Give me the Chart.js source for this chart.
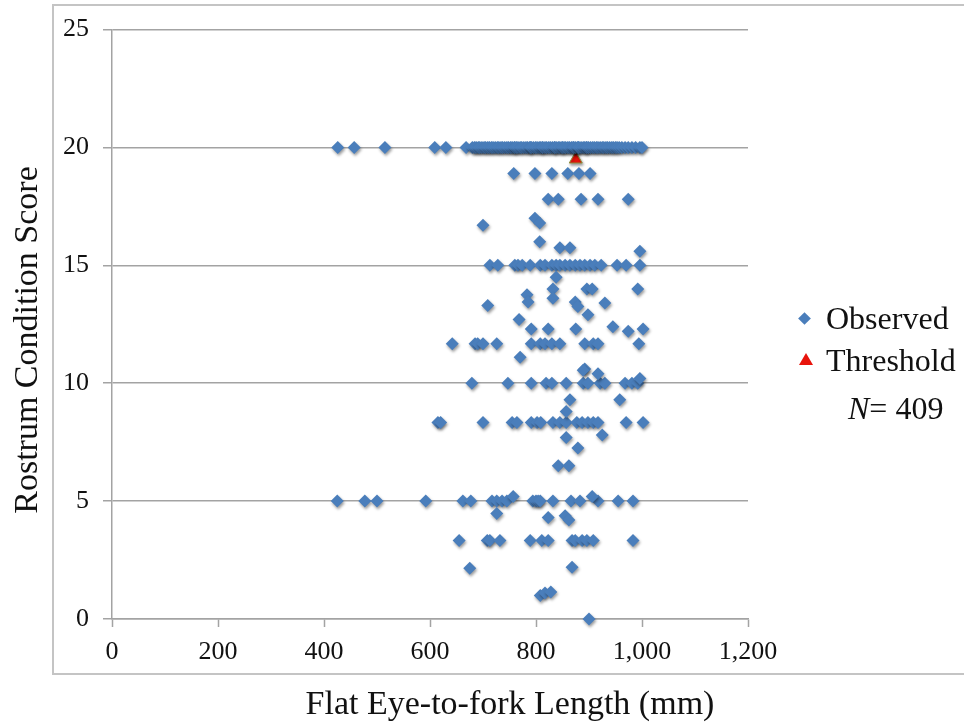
<!DOCTYPE html>
<html lang="en">
<head>
<meta charset="UTF-8">
<title>Rostrum Condition Score</title>
<script src="https://cdn.jsdelivr.net/npm/chart.js"></script>
<style>
    body { margin: 0; background: #fff; }
    #wrap { position: relative; width: 964px; height: 725px; overflow: hidden; font-family: 'Liberation Serif', 'Times New Roman', serif; color: #111; }
    #frame { position: absolute; left: 52px; top: 4px; width: 960px; height: 667px; border: 2px solid #c4c4c4; }
    #plot { position: absolute; left: 0; top: 0; width: 964px; height: 725px; }
    .ttl { position: absolute; font-size: 34px; text-align: center; white-space: nowrap; line-height: 40px; height: 40px; }
    #ytitle { left: -174px; top: 320px; width: 400px; transform: rotate(-90deg); }
    #xtitle { left: 210px; top: 683px; width: 600px; }
    .leg { position: absolute; font-size: 32px; line-height: 36px; white-space: nowrap; }
    .dia { position: absolute; width: 9px; height: 9px; background: #4A7EBB; transform: rotate(45deg); }
    .tri { position: absolute; width: 0; height: 0; border-left: 7px solid transparent; border-right: 7px solid transparent; border-bottom: 12px solid #e8140c; }
</style>
</head>
<body>
<div id="wrap">
    <div id="frame"></div>
    <div id="plot"><canvas id="chart"></canvas></div>
    <div class="ttl" id="ytitle">Rostrum Condition Score</div>
    <div class="ttl" id="xtitle">Flat Eye-to-fork Length (mm)</div>
    <div class="dia" style="left:800px; top:314px;"></div>
    <div class="leg" style="left:826px; top:300px;">Observed</div>
    <div class="tri" style="left:799px; top:353px;"></div>
    <div class="leg" style="left:826px; top:342px;">Threshold</div>
    <div class="leg" style="left:848px; top:390px;"><i>N</i>= 409</div>
</div>
<script>
    // lengths (mm) grouped by score row
    const len20 = [426, 457, 515, 609, 630, 668, 680, 684, 687, 691, 694, 698, 702, 705, 709, 712, 716, 719, 723, 727, 730, 734, 737, 741, 745, 748, 752, 755, 759, 760, 763, 766, 770, 773, 777, 781, 784, 788, 790, 791, 795, 799, 802, 806, 809, 812, 813, 817, 820, 824, 827, 831, 835, 835, 838, 842, 845, 849, 850, 853, 856, 860, 863, 867, 870, 871, 874, 878, 880, 881, 885, 889, 892, 895, 896, 899, 903, 907, 910, 914, 917, 921, 925, 928, 932, 935, 939, 943, 946, 950, 953, 957, 962, 968, 974, 981, 988, 996, 1000];
    const len19 = [758, 798, 830, 860, 881, 902];
    const len18 = [823, 842, 885, 917, 974];
    const len15 = [713, 728, 760, 766, 774, 789, 808, 817, 830, 838, 845, 855, 864, 874, 883, 892, 902, 911, 923, 953, 970, 996];
    const len12 = [642, 685, 690, 700, 726, 791, 808, 817, 830, 845, 892, 908, 917, 994];
    const len10 = [679, 747, 791, 819, 830, 857, 889, 898, 921, 930, 968, 981, 992];
    const len8 = [615, 620, 700, 755, 764, 791, 802, 809, 832, 845, 857, 877, 887, 898, 908, 917, 970, 1002];
    const len5 = [425, 477, 500, 592, 662, 677, 717, 726, 736, 745, 794, 800, 804, 808, 832, 866, 883, 917, 955, 983];
    const len3 = [655, 708, 713, 732, 789, 811, 823, 868, 874, 887, 896, 908, 983];
    const rowScores = [20, 18.9, 17.8, 15, 11.67, 10, 8.33, 5, 3.33];
    // points between the rows
    const otherLen = [798, 807, 700, 807, 845, 864, 996, 838, 832, 896, 906, 992, 783, 785, 709, 832, 874, 879, 930, 768, 898, 791, 823, 875, 945, 974, 1002, 770, 892, 917, 889, 996, 864, 958, 857, 857, 925, 879, 842, 862, 757, 906, 726, 823, 855, 862, 675, 868, 808, 817, 828, 900];
    const otherScore = [17.0, 16.8, 16.7, 16.0, 15.75, 15.75, 15.6, 14.5, 14.0, 14.0, 14.0, 14.0, 13.75, 13.45, 13.3, 13.6, 13.45, 13.25, 13.4, 12.7, 12.9, 12.3, 12.3, 12.3, 12.4, 12.2, 12.3, 11.1, 10.6, 10.4, 10.55, 10.2, 9.3, 9.3, 8.8, 7.7, 7.8, 7.25, 6.5, 6.5, 5.2, 5.2, 4.47, 4.3, 4.38, 4.2, 2.15, 2.2, 1.0, 1.1, 1.15, 0];
    const thresholdLen = [875];
    const thresholdScore = [19.5];

    const rows = [len20, len19, len18, len15, len12, len10, len8, len5, len3];
    const observed = [];
    rows.forEach((r, i) => r.forEach(x => observed.push({ x: x, y: rowScores[i] })));
    otherLen.forEach((x, i) => observed.push({ x: x, y: otherScore[i] }));
    const threshold = thresholdLen.map((x, i) => ({ x: x, y: thresholdScore[i] }));

    // soft shadow like the office markers
    const shadow = {
        id: 'shadow',
        beforeDatasetDraw(chart, args) { const c = chart.ctx; c.save(); c.shadowColor = 'rgba(0,0,0,0.4)'; c.shadowBlur = 3; c.shadowOffsetX = 1; c.shadowOffsetY = 2; },
        afterDatasetDraw(chart) { chart.ctx.restore(); }
    };

    Chart.defaults.font.family = "'Liberation Serif', 'Times New Roman', serif";
    Chart.defaults.color = '#111';
    const gridCol = '#a3a3a3';
    new Chart(document.getElementById('chart'), {
        type: 'scatter',
        data: { datasets: [
            { label: 'Observed', data: observed, pointStyle: 'rectRot', pointRadius: 6.5, backgroundColor: '#4A7EBB', borderColor: '#4A7EBB', borderWidth: 0, clip: false },
            { label: 'Threshold', data: threshold, pointStyle: 'triangle', pointRadius: 7.5, backgroundColor: '#e8140c', borderColor: '#8d8f3a', borderWidth: 1, clip: false }
        ] },
        options: {
            responsive: true, maintainAspectRatio: false, animation: false, locale: 'en-US',
            layout: { padding: { left: 0, top: 26, right: 216, bottom: 0 } },
            plugins: { legend: { display: false }, tooltip: { enabled: false } },
            scales: {
                x: {
                    type: 'linear', min: 0, max: 1200,
                    ticks: { stepSize: 200, padding: 10, font: { size: 26 } },
                    grid: { drawOnChartArea: false, drawTicks: true, tickLength: 8, tickColor: gridCol, tickWidth: 1.5 },
                    border: { color: gridCol, width: 1.5 },
                    afterFit: s => { s.height = 106; }
                },
                y: {
                    min: 0, max: 25,
                    ticks: { stepSize: 5, padding: 14, font: { size: 26 } },
                    grid: { color: gridCol, lineWidth: 1.5, tickLength: 9 },
                    border: { color: gridCol, width: 1.5 },
                    afterFit: s => { s.width = 112; }
                }
            }
        },
        plugins: [shadow]
    });
</script>
</body>
</html>
